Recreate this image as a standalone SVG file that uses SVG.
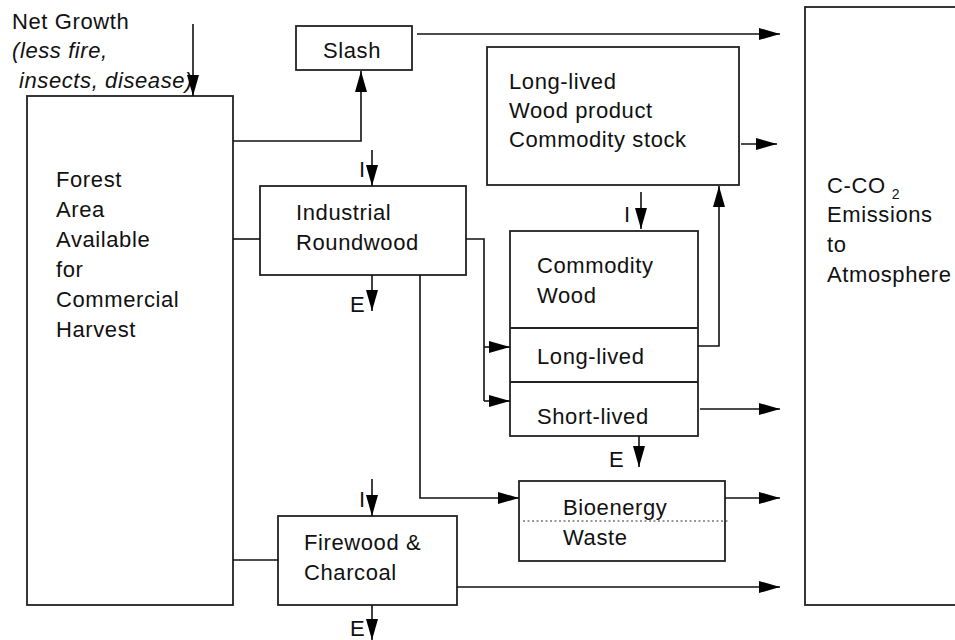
<svg xmlns="http://www.w3.org/2000/svg" width="955" height="640" viewBox="0 0 955 640">
<defs>
<marker id="ah" markerWidth="21" markerHeight="12" refX="21" refY="6" orient="auto" markerUnits="userSpaceOnUse">
<path d="M0,0 L21,6 L0,12 z" fill="#000"/>
</marker>
<style>
.box{fill:#fff;stroke:#222;stroke-width:1.8}
.ln{fill:none;stroke:#111;stroke-width:1.6}
.arr{marker-end:url(#ah)}
.div{stroke:#222;stroke-width:1.8}
.dot{stroke:#333;stroke-width:1;stroke-dasharray:2 2.5}
text{font-family:"Liberation Sans",Arial,sans-serif;font-size:22px;fill:#111;letter-spacing:0.6px}
.it{font-style:italic}
.sub{font-size:14px;letter-spacing:0}
</style>
</defs>
<rect width="955" height="640" fill="#fff"/>

<g id="net-growth">
<text x="12" y="29">Net Growth</text>
<text class="it" x="12" y="58">(less fire,</text>
<text class="it" x="19" y="88">insects, disease)</text>
</g>

<g id="forest">
<rect class="box" x="27" y="96" width="206" height="509"/>
<text x="56" y="187">Forest</text>
<text x="56" y="217">Area</text>
<text x="56" y="247">Available</text>
<text x="56" y="277">for</text>
<text x="56" y="307">Commercial</text>
<text x="56" y="337">Harvest</text>
</g>

<g id="slash">
<rect class="box" x="296" y="26" width="116" height="44"/>
<text x="323" y="58">Slash</text>
</g>

<g id="industrial-roundwood">
<rect class="box" x="260" y="186" width="206" height="89"/>
<text x="296" y="220">Industrial</text>
<text x="296" y="250">Roundwood</text>
</g>

<g id="long-lived-stock">
<rect class="box" x="487" y="47" width="252" height="138"/>
<text x="509" y="89">Long-lived</text>
<text x="509" y="118">Wood product</text>
<text x="509" y="147">Commodity stock</text>
</g>

<g id="commodity-wood">
<rect class="box" x="510" y="231" width="188" height="205"/>
<line class="div" x1="510" y1="328" x2="698" y2="328"/>
<line class="div" x1="510" y1="382" x2="698" y2="382"/>
<text x="537" y="273">Commodity</text>
<text x="537" y="303">Wood</text>
<text x="537" y="364">Long-lived</text>
<text x="537" y="424">Short-lived</text>
</g>

<g id="bioenergy">
<rect class="box" x="519" y="481" width="206" height="80"/>
<line class="dot" x1="523" y1="521" x2="729" y2="521"/>
<text x="563" y="515">Bioenergy</text>
<text x="563" y="545">Waste</text>
</g>

<g id="firewood">
<rect class="box" x="278" y="516" width="179" height="89"/>
<text x="304" y="550">Firewood &amp;</text>
<text x="304" y="580">Charcoal</text>
</g>

<g id="atmosphere">
<rect class="box" x="805" y="7" width="200" height="598"/>
<text x="827" y="193">C-CO<tspan class="sub" dx="6" dy="6">2</tspan></text>
<text x="827" y="222">Emissions</text>
<text x="827" y="252">to</text>
<text x="827" y="282">Atmosphere</text>
</g>

<g id="labels">
<text x="359" y="177">I</text>
<text x="350" y="312">E</text>
<text x="624" y="222">I</text>
<text x="609" y="467">E</text>
<text x="359" y="507">I</text>
<text x="350" y="636">E</text>
</g>

<g id="connectors">
<line class="ln arr" x1="193" y1="24" x2="193" y2="96"/>
<polyline class="ln arr" points="233,141 361,141 361,71"/>
<line class="ln arr" x1="417" y1="34" x2="780" y2="34"/>
<line class="ln arr" x1="741" y1="144" x2="777" y2="144"/>
<line class="ln arr" x1="372" y1="150" x2="372" y2="186"/>
<line class="ln" x1="233" y1="239" x2="260" y2="239"/>
<line class="ln arr" x1="372" y1="275" x2="372" y2="311"/>
<polyline class="ln" points="466,239 484,239 484,401"/>
<line class="ln arr" x1="484" y1="347" x2="510" y2="347"/>
<line class="ln arr" x1="484" y1="401" x2="510" y2="401"/>
<line class="ln arr" x1="641" y1="192" x2="641" y2="229"/>
<polyline class="ln arr" points="698,346 719,346 719,186"/>
<line class="ln arr" x1="700" y1="409" x2="780" y2="409"/>
<line class="ln arr" x1="639" y1="436" x2="639" y2="467"/>
<polyline class="ln arr" points="420,275 420,498 519,498"/>
<line class="ln arr" x1="725" y1="498" x2="780" y2="498"/>
<line class="ln" x1="233" y1="560" x2="278" y2="560"/>
<line class="ln arr" x1="372" y1="479" x2="372" y2="516"/>
<line class="ln arr" x1="457" y1="587" x2="780" y2="587"/>
<line class="ln arr" x1="372" y1="605" x2="372" y2="640"/>
</g>
</svg>
